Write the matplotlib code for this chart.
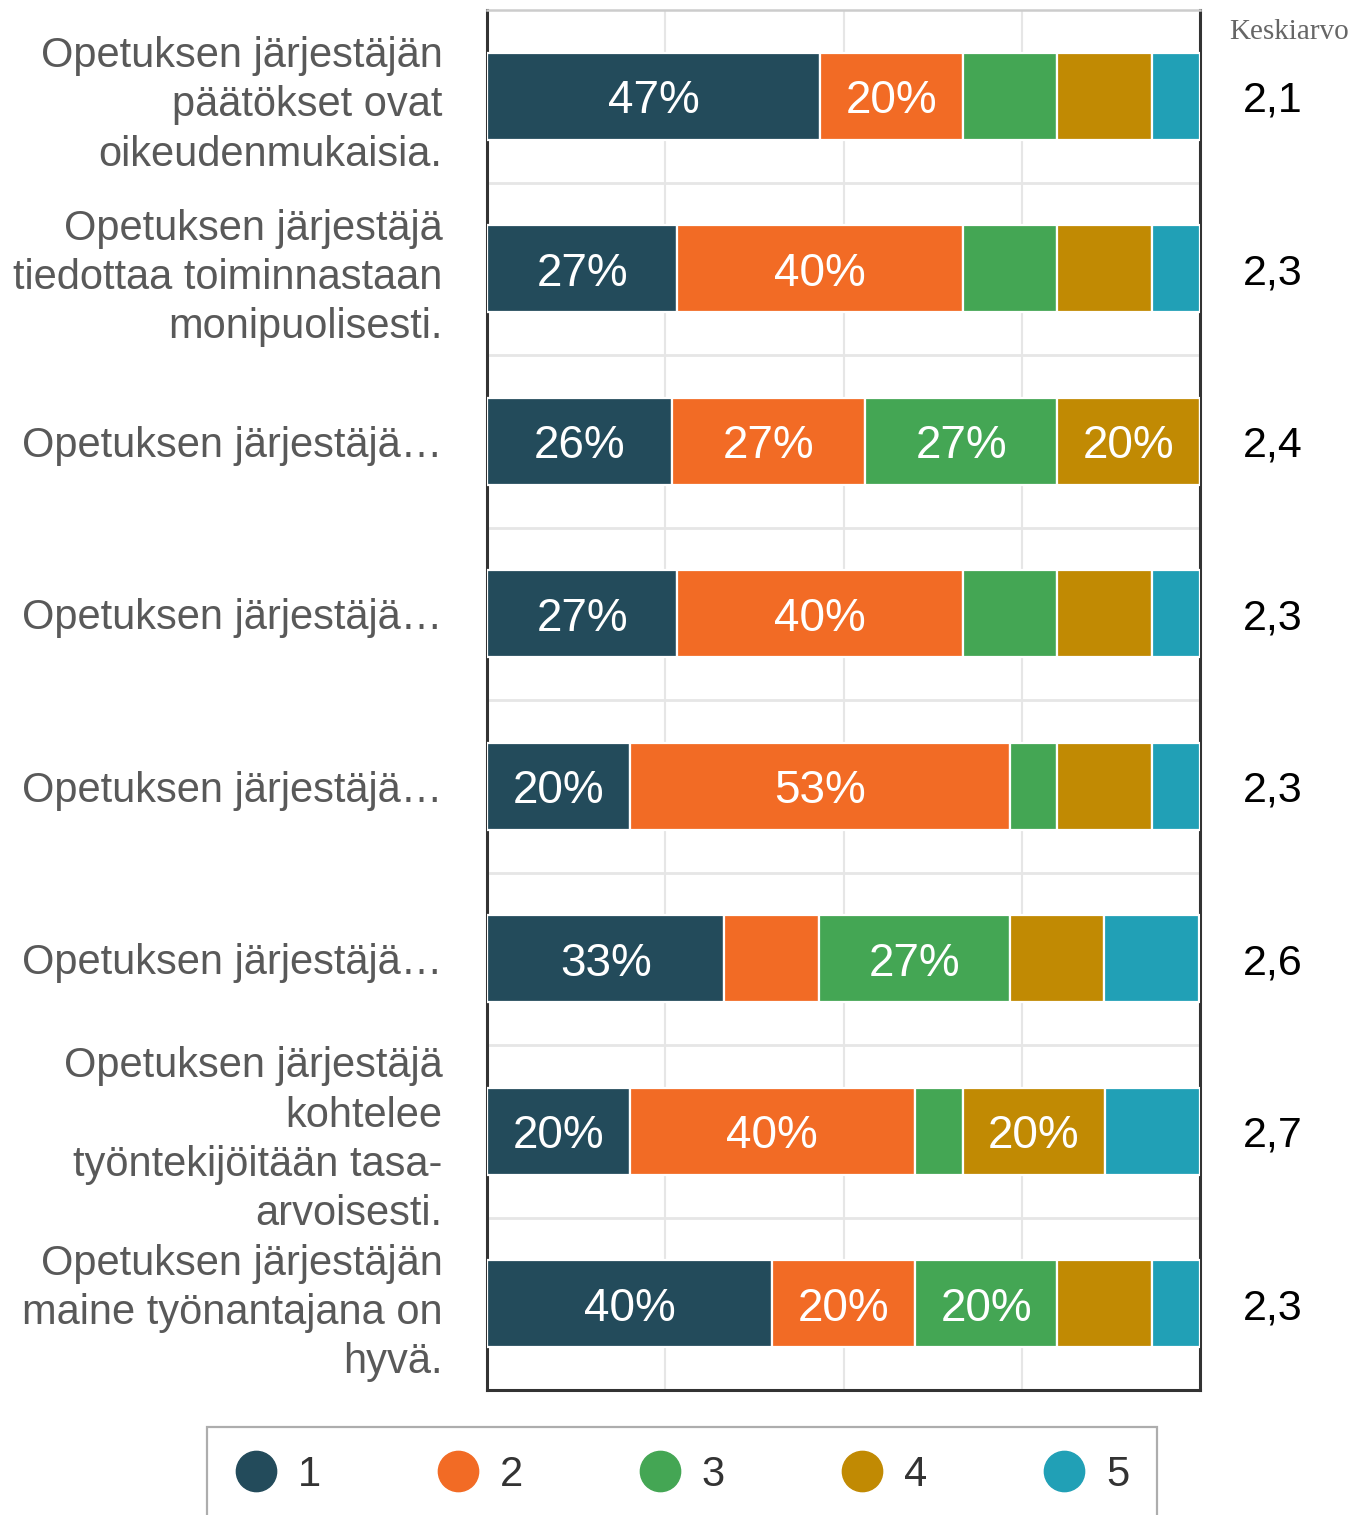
import matplotlib
matplotlib.use('Agg')
import matplotlib.pyplot as plt
from matplotlib.lines import Line2D
import numpy as np

# kysymykset (ylhäältä alas)
questions = [
    'Opetuksen järjestäjän\npäätökset ovat\noikeudenmukaisia.',
    'Opetuksen järjestäjä\ntiedottaa toiminnastaan\nmonipuolisesti.',
    'Opetuksen järjestäjä…',
    'Opetuksen järjestäjä…',
    'Opetuksen järjestäjä…',
    'Opetuksen järjestäjä…',
    'Opetuksen järjestäjä\nkohtelee\ntyöntekijöitään tasa-\narvoisesti.',
    'Opetuksen järjestäjän\nmaine työnantajana on\nhyvä.',
]
# vastausten jakauma (%) vaihtoehdoille 1..5
p1 = [46.7, 26.7, 26.0, 26.7, 20.0, 33.3, 20.0, 40.0]
p2 = [20.0, 40.0, 27.0, 40.0, 53.3, 13.3, 40.0, 20.0]
p3 = [13.3, 13.3, 27.0, 13.3, 6.7, 26.7, 6.7, 20.0]
p4 = [13.3, 13.3, 20.0, 13.3, 13.3, 13.3, 20.0, 13.3]
p5 = [6.7, 6.7, 0.0, 6.7, 6.7, 13.3, 13.3, 6.7]
means = ['2,1', '2,3', '2,4', '2,3', '2,3', '2,6', '2,7', '2,3']
options = ['1', '2', '3', '4', '5']
colors = ['#234b5b', '#f26b25', '#44a654', '#c18a03', '#21a0b6']

W, H = 1362, 1515
fig = plt.figure(figsize=(W/100, H/100), dpi=100)
ax = fig.add_axes([487/W, 1-1390/H, 713/W, 1380/H])

y = np.arange(len(questions))
left = np.zeros(len(questions))
for vals, c in zip([p1, p2, p3, p4, p5], colors):
    vals = np.array(vals)
    ax.barh(y, vals, left=left, height=0.505, color=c, edgecolor='white', linewidth=1.6, zorder=3)
    for yi, l, v in zip(y, left, vals):
        if v >= 19.5:
            ax.text(l+v/2, yi, '%.0f%%' % v, ha='center', va='center_baseline', color='white',
                    fontsize=33, family='Liberation Sans', zorder=4)
    left += vals

ax.set_xlim(0, 100)
ax.set_ylim(len(questions)-0.5, -0.5)
ax.set_xticks([0, 25, 50, 75, 100])
ax.set_xticklabels([])
ax.set_yticks(y)
ax.set_yticklabels(questions, fontsize=30, color='#595959', family='Liberation Sans', linespacing=1.3)
ax.set_yticks(np.arange(0.5, len(questions)-0.5, 1), minor=True)
ax.tick_params(axis='both', which='both', length=0)
ax.tick_params(axis='y', pad=32)
ax.grid(axis='x', which='major', color='#e6e6e6', linewidth=1.5)
ax.grid(axis='y', which='minor', color='#e6e6e6', linewidth=2)
ax.set_axisbelow(True)

for s in ['left', 'right', 'bottom']:
    ax.spines[s].set_color('#333333')
    ax.spines[s].set_linewidth(2.2)
ax.spines['top'].set_color('#cccccc')
ax.spines['top'].set_linewidth(1.8)

# keskiarvot oikealla
tr = ax.get_yaxis_transform()
for yi, m in zip(y, means):
    ax.text(1.102, yi, m, transform=tr, ha='center', va='center_baseline', fontsize=31,
            color='black', family='Liberation Sans', clip_on=False)
ax.text(1.125, 0.984, 'Keskiarvo', transform=ax.transAxes, ha='center', va='center',
        fontsize=21, color='#666666', family='Liberation Serif')

handles = [Line2D([], [], marker='o', linestyle='none', markersize=29, color=c) for c in colors]
leg = fig.legend(handles, options, loc='center', ncol=5, mode='expand',
                 bbox_to_anchor=(207/W, 1-1523/H, 950/W, 96/H), borderaxespad=0,
                 frameon=True, fancybox=False, borderpad=0.67,
                 handletextpad=0.5, handlelength=1.0, prop={'family': 'Liberation Sans', 'size': 30})
leg.get_frame().set_edgecolor('#999999')
leg.get_frame().set_linewidth(1.6)
for t in leg.get_texts():
    t.set_color('#333333')

fig.savefig('out.png', dpi=100)
